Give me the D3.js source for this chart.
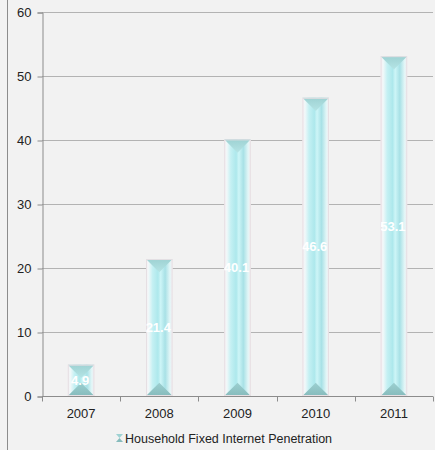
<!DOCTYPE html>
<html>
<head>
<meta charset="utf-8">
<script src="https://cdn.jsdelivr.net/npm/d3@7"></script>
<style>
  html, body { margin: 0; padding: 0; background: #f2f2f2; }
  svg { display: block; font-family: "Liberation Sans", Arial, sans-serif; }
</style>
</head>
<body>
<svg id="chart" width="435" height="450"></svg>
<script>
// Household fixed internet penetration by year
const years = ["2007", "2008", "2009", "2010", "2011"];
const penetration = [4.9, 21.4, 40.1, 46.6, 53.1];
const yTicks = [0, 10, 20, 30, 40, 50, 60];
const seriesName = "Household Fixed Internet Penetration";

const FONT = "'Liberation Sans', Arial, sans-serif";
const svg = d3.select("#chart");
const W = 435, H = 450;
const plot = { left: 42, right: 433, top: 12, bottom: 396 };

svg.append("rect").attr("width", W).attr("height", H).attr("fill", "#f2f2f2");
// frame edge on the left
svg.append("line").attr("x1", 7.5).attr("x2", 7.5).attr("y1", 0).attr("y2", H)
  .attr("stroke", "#8c8c8c").attr("stroke-width", 1);

const x = d3.scaleBand().domain(years).range([plot.left, plot.right]).paddingInner(0.66).paddingOuter(0.33);
const band = d3.scaleBand().domain(years).range([plot.left, plot.right]);
const y = d3.scaleLinear().domain([0, 60]).range([plot.bottom, plot.top]);

// gradients for the bevelled columns
const defs = svg.append("defs");
const side = defs.append("linearGradient").attr("id", "colSide").attr("x1", 0).attr("x2", 1).attr("y1", 0).attr("y2", 0);
[[0, "#f7eef2"], [0.1, "#f0f8f9"], [0.25, "#c4f0f3"], [0.45, "#ade8ec"], [0.55, "#cdf5f7"], [0.72, "#a8e1e6"], [0.9, "#e2f6f7"], [1, "#f4ecf0"]]
  .forEach(([o, c]) => side.append("stop").attr("offset", o).attr("stop-color", c));
const topCap = defs.append("linearGradient").attr("id", "colTop").attr("x1", 0).attr("x2", 0).attr("y1", 0).attr("y2", 1);
topCap.append("stop").attr("offset", 0).attr("stop-color", "#9ed2d3");
topCap.append("stop").attr("offset", 1).attr("stop-color", "#b5e4e5");
const botCap = defs.append("linearGradient").attr("id", "colBot").attr("x1", 0).attr("x2", 0).attr("y1", 0).attr("y2", 1);
botCap.append("stop").attr("offset", 0).attr("stop-color", "#9ccfd0");
botCap.append("stop").attr("offset", 1).attr("stop-color", "#86bbbc");

// gridlines
svg.append("g").selectAll("line").data(yTicks.filter(t => t > 0)).join("line")
  .attr("x1", plot.left).attr("x2", plot.right)
  .attr("y1", d => Math.round(y(d)) + 0.5).attr("y2", d => Math.round(y(d)) + 0.5)
  .attr("stroke", "#b3b3b3").attr("stroke-width", 1);

// y axis
const yAxis = svg.append("g").attr("transform", `translate(${plot.left + 0.5},0.5)`)
  .call(d3.axisLeft(y).tickValues(yTicks).tickSize(5).tickPadding(6));
yAxis.attr("font-family", FONT);
yAxis.select(".domain").attr("stroke", "#8c8c8c");
yAxis.selectAll(".tick line").attr("stroke", "#8c8c8c");
yAxis.selectAll("text").attr("font-size", 13).attr("fill", "#222");

// columns
const bars = svg.append("g").selectAll("g").data(years).join("g");
bars.each(function (yr, i) {
  const g = d3.select(this);
  const x0 = x(yr), w = x.bandwidth();
  const yt = y(penetration[i]), yb = y(0);
  const h = yb - yt;
  const cap = Math.min(w * 0.5, h / 2);
  defs.append("clipPath").attr("id", "clip" + i)
    .append("rect").attr("x", x0).attr("y", yt).attr("width", w).attr("height", h);
  g.append("rect").attr("x", x0).attr("y", yt).attr("width", w).attr("height", h).attr("fill", "url(#colSide)");
  g.append("path").attr("d", `M${x0},${yt}L${x0 + w},${yt}L${x0 + w / 2},${yt + cap}Z`).attr("fill", "url(#colTop)");
  g.append("path").attr("d", `M${x0},${yb}L${x0 + w},${yb}L${x0 + w / 2},${yb - cap}Z`).attr("fill", "url(#colBot)");
  g.append("rect").attr("x", x0 + 0.5).attr("y", yt + 0.5).attr("width", w - 1).attr("height", h - 1)
    .attr("fill", "none").attr("stroke", "#e6dfe3").attr("stroke-width", 1);
  g.append("text").attr("clip-path", `url(#clip${i})`)
    .attr("x", x0 + w / 2 - 1).attr("y", (yt + yb) / 2).attr("dy", "0.35em")
    .attr("text-anchor", "middle").attr("fill", "#ffffff").attr("font-weight", "bold").attr("font-size", 13)
    .attr("font-family", FONT)
    .text(penetration[i]);
});

// x axis
const xAxisG = svg.append("g").attr("transform", `translate(0,${plot.bottom + 0.5})`).attr("font-family", FONT);
xAxisG.append("line").attr("x1", plot.left).attr("x2", plot.right).attr("stroke", "#8c8c8c");
const edges = years.map(d => band(d)).concat([plot.right]);
xAxisG.selectAll("line.tick").data(edges).join("line").attr("class", "tick")
  .attr("x1", d => Math.round(d) + 0.5).attr("x2", d => Math.round(d) + 0.5).attr("y1", 0).attr("y2", 5)
  .attr("stroke", "#8c8c8c");
xAxisG.selectAll("text").data(years).join("text")
  .attr("x", d => x(d) + x.bandwidth() / 2).attr("y", 21.5)
  .attr("text-anchor", "middle").attr("font-size", 13).attr("fill", "#222").text(d => d);

// legend
const lg = svg.append("g").attr("transform", "translate(116,434)").attr("font-family", FONT);
lg.append("path").attr("d", "M0,0L7,0L3.5,4Z").attr("fill", "#9ed2d3");
lg.append("path").attr("d", "M0,8L7,8L3.5,4Z").attr("fill", "#86bbbc");
lg.append("text").attr("x", 9).attr("y", 8.5).attr("font-size", 12.5).attr("fill", "#222").text(seriesName);
</script>
</body>
</html>
